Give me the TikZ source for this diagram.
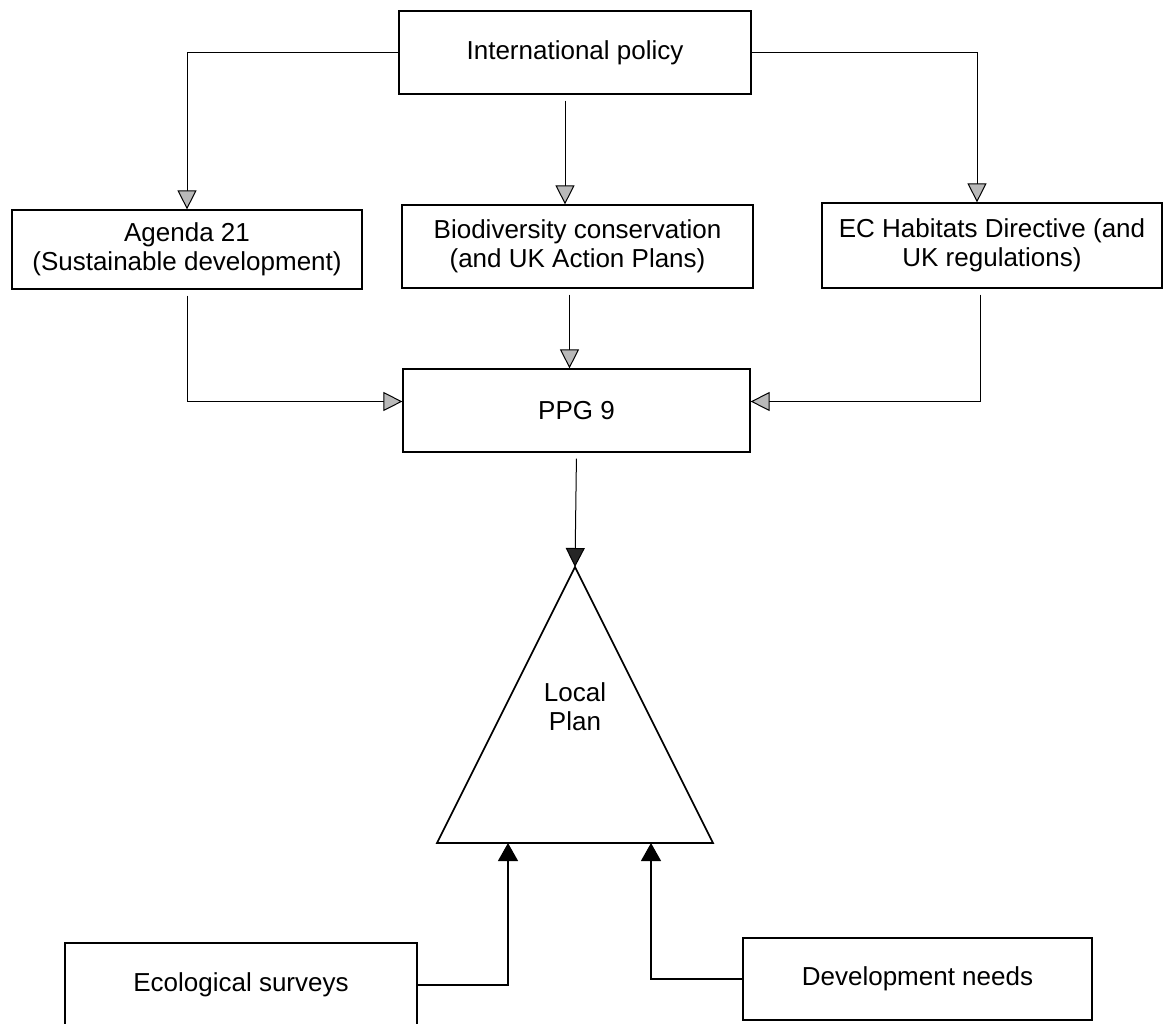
\documentclass[tikz,border=0pt]{standalone}
\usepackage{fontspec}
\setmainfont{Liberation Sans}
\usetikzlibrary{arrows.meta,positioning}
\tikzset{
  box/.style={draw, line width=0.6pt, inner sep=0pt, align=center,
    font=\fontsize{13}{14.5}\selectfont},
  link/.style={line width=0.5pt, shorten <=3pt,
    -{Triangle[length=9.5pt,width=9.5pt,fill=gray!55]}},
  uplink/.style={line width=0.6pt, -{Triangle[length=9pt,width=10pt]}},
}

\begin{document}
\begin{tikzpicture}[x=0.5pt, y=-0.5pt]
  \clip (0,0) rectangle (1167,1023);

  \node [box, minimum width=176pt, minimum height=41.5pt] (intl) at (575,52.5) {International policy};
  \node [box, minimum width=175pt, minimum height=39.5pt] (agenda) at (187,249.5) {Agenda 21\\(Sustainable development)};
  \node [box, minimum width=175.5pt, minimum height=41.5pt] (bio) at (577.5,246.5) {Biodiversity conservation\\(and UK Action Plans)};
  \node [box, minimum width=170pt, minimum height=42.5pt] (ec) at (992,245.5) {EC Habitats Directive (and\\UK regulations)};
  \node [box, minimum width=173.5pt, minimum height=41.5pt] (ppg) at (576.5,410.5) {PPG 9};

  \coordinate (apex) at (575,567);
  \coordinate (baseleft) at (437,843);
  \coordinate (baseright) at (713,843);
  \coordinate (in1) at (508,843);
  \coordinate (in2) at (651,843);
  \draw [line width=0.8pt] (apex) -- (baseleft) -- (baseright) -- cycle;
  \node [box, draw=none] (local) at (575,707) {Local\\Plan};

  \node [box, minimum width=176pt, minimum height=42pt] (eco) at (241,985) {Ecological surveys};
  \node [box, minimum width=174.5pt, minimum height=41pt] (dev) at (917.5,979) {Development needs};

  \draw [link, shorten <=0pt] (intl.west) -| (agenda.north);
  \draw [link] ([xshift=-5pt]intl.south) -- ([xshift=-5pt]intl.south |- bio.north);
  \draw [link, shorten <=0pt] (intl.east) -| ([xshift=-7.5pt]ec.north);
  \draw [link] (agenda.south) |- ([yshift=4.5pt]ppg.west);
  \draw [link] ([xshift=-4pt]bio.south) -- ([xshift=-4pt]bio.south |- ppg.north);
  \draw [link] ([xshift=-6pt]ec.south) |- ([yshift=4.5pt]ppg.east);
  \draw [link, -{Triangle[length=9.5pt,width=9.5pt,fill=black!85]}] (ppg.south) -- (apex);
  \draw [uplink] (eco.east) -| (in1);
  \draw [uplink] (dev.west) -| (in2);
\end{tikzpicture}
\end{document}
